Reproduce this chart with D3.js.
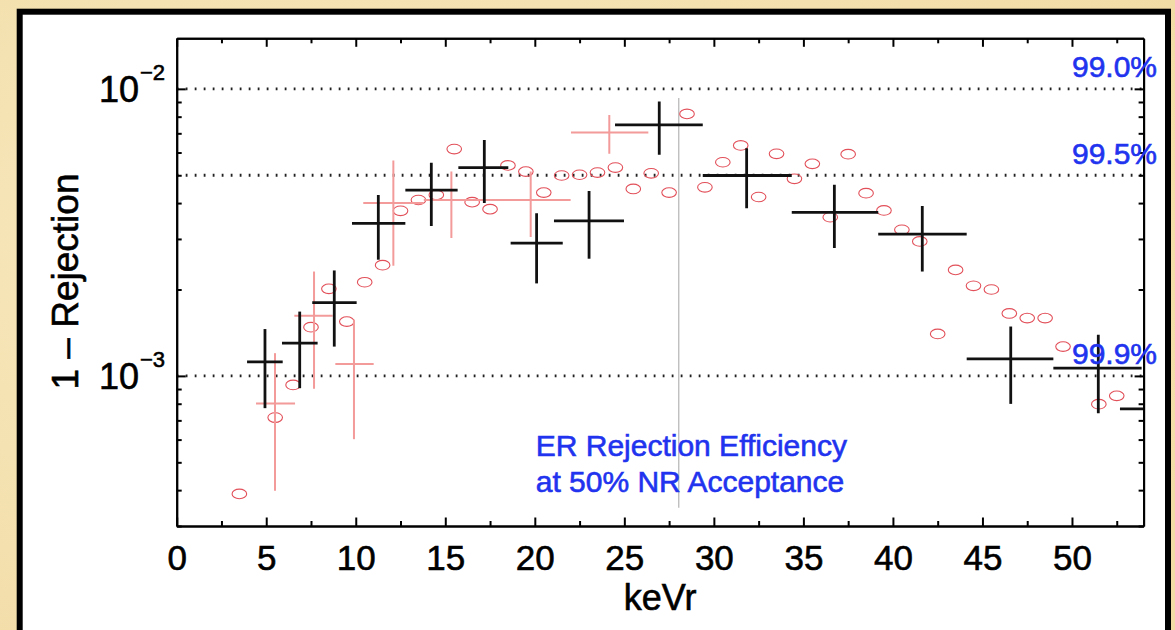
<!DOCTYPE html>
<html>
<head>
<meta charset="utf-8">
<script src="https://cdn.jsdelivr.net/npm/d3@7"></script>
<style>
  html, body { margin: 0; padding: 0; background: #f4e4b8; }
  svg { display: block; }
  text { font-family: "Liberation Sans", Arial, Helvetica, sans-serif; }
</style>
</head>
<body>
<svg id="chart" width="1175" height="630"></svg>
<script>
// ---------- data ----------
// black crosses (bin centre, bin edges, value, error bounds)
const blackX    = [4.93, 6.87, 8.80, 11.26, 14.22, 17.18, 20.10, 23.03, 26.95, 31.83, 36.73, 41.64, 46.58, 51.47, 55.10];
const blackXLo  = [3.93, 5.88, 7.57, 9.79, 12.77, 15.73, 18.65, 21.07, 24.48, 29.38, 34.35, 39.18, 44.12, 48.96, 52.68];
const blackXHi  = [5.92, 7.87, 10.05, 12.77, 15.69, 18.52, 21.56, 24.98, 29.38, 34.35, 39.18, 44.12, 48.96, 53.89, 57.50];
const blackY    = [1.12e-3, 1.30e-3, 1.80e-3, 3.40e-3, 4.44e-3, 5.32e-3, 2.90e-3, 3.47e-3, 7.49e-3, 4.99e-3, 3.71e-3, 3.12e-3, 1.146e-3, 1.064e-3, 7.67e-4];
const blackYLo  = [7.72e-4, 9.06e-4, 1.265e-3, 2.54e-3, 3.33e-3, 4.00e-3, 2.10e-3, 2.56e-3, 5.89e-3, 3.84e-3, 2.79e-3, 2.31e-3, 7.99e-4, 7.41e-4, 5.5e-4];
const blackYHi  = [1.456e-3, 1.675e-3, 2.33e-3, 4.27e-3, 5.53e-3, 6.64e-3, 3.69e-3, 4.41e-3, 9.03e-3, 6.21e-3, 4.63e-3, 3.91e-3, 1.486e-3, 1.39e-3, 1.05e-3];

// pink crosses
const pinkX   = [5.49, 7.67, 9.90, 12.10, 15.34, 19.77, 24.16];
const pinkXLo = [4.43, 6.57, 8.86, 10.42, 13.80, 17.50, 22.02];
const pinkXHi = [6.61, 8.71, 11.00, 13.80, 17.50, 22.00, 26.34];
const pinkY   = [8.01e-4, 1.62e-3, 1.10e-3, 4.00e-3, 4.10e-3, 4.10e-3, 7.05e-3];
const pinkYLo = [3.98e-4, 9.02e-4, 6.02e-4, 2.42e-3, 3.02e-3, 3.05e-3, 5.94e-3];
const pinkYHi = [1.20e-3, 2.31e-3, 1.57e-3, 5.63e-3, 5.15e-3, 5.15e-3, 8.11e-3];

// red open circles
const circX = [3.5, 5.5, 6.5, 7.5, 8.5, 9.5, 10.5, 11.5, 12.5, 13.5, 14.5, 15.5, 16.5, 17.5, 18.5, 19.5,
               20.5, 21.5, 22.5, 23.5, 24.5, 25.5, 26.5, 27.5, 28.5, 29.5, 30.5, 31.5, 32.5, 33.5, 34.5,
               35.5, 36.5, 37.5, 38.5, 39.5, 40.5, 41.5, 42.5, 43.5, 44.5, 45.5, 46.5, 47.5, 48.5, 49.5, 51.5, 52.5];
const circY = [3.88e-4, 7.16e-4, 9.30e-4, 1.478e-3, 2.01e-3, 1.546e-3, 2.12e-3, 2.43e-3, 3.76e-3, 4.10e-3, 4.27e-3, 6.17e-3,
               4.03e-3, 3.81e-3, 5.41e-3, 5.15e-3, 4.35e-3, 4.99e-3, 5.02e-3, 5.11e-3, 5.32e-3, 4.48e-3, 5.08e-3, 4.35e-3,
               8.18e-3, 4.54e-3, 5.55e-3, 6.35e-3, 4.20e-3, 5.94e-3, 4.86e-3, 5.48e-3, 3.57e-3, 5.92e-3, 4.33e-3, 3.77e-3,
               3.23e-3, 2.94e-3, 1.40e-3, 2.34e-3, 2.06e-3, 2.00e-3, 1.65e-3, 1.59e-3, 1.59e-3, 1.265e-3, 7.97e-4, 8.52e-4];

// reference lines and labels
const refLevels = [1e-2, 5e-3, 1e-3];
const refLabels = ["99.0%", "99.5%", "99.9%"];
const cutX = 28.04;
const cutRange = [9.3e-3, 3.47e-4];

// axes
const xDomain = [0, 54];
const yDomain = [3e-4, 1.5e-2];
const xMajorTicks = [0, 5, 10, 15, 20, 25, 30, 35, 40, 45, 50];
const xMinorTicks = [2.5, 7.5, 12.5, 17.5, 22.5, 27.5, 32.5, 37.5, 42.5, 47.5, 52.5];
const yMajorTicks = [1e-2, 1e-3];
const yMajorExp = ["−2", "−3"];
const yMinorTicks = [3e-4, 4e-4, 5e-4, 6e-4, 7e-4, 8e-4, 9e-4, 2e-3, 3e-3, 4e-3, 5e-3, 6e-3, 7e-3, 8e-3, 9e-3];
const xTitle = "keVr";
const yTitle = "1 – Rejection";
const noteLines = ["ER Rejection Efficiency", "at 50% NR Acceptance"];

// ---------- drawing ----------
const svg = d3.select("#chart");
const W = 1175, H = 630;
const L = 176.7, R = 1143.6, T = 38.3, B = 526;

const defs = svg.append("defs");
const rg = defs.append("radialGradient").attr("id", "parch").attr("cx", "30%").attr("cy", "40%").attr("r", "80%");
rg.append("stop").attr("offset", "0%").attr("stop-color", "#f8e9c0");
rg.append("stop").attr("offset", "100%").attr("stop-color", "#f2dca6");
defs.append("clipPath").attr("id", "plotclip")
  .append("rect").attr("x", L).attr("y", T).attr("width", R - L).attr("height", B - T);

svg.append("rect").attr("width", W).attr("height", H).attr("fill", "url(#parch)");
// white panel with thick black frame
svg.append("rect").attr("x", 19.7).attr("y", 11.7).attr("width", 1148.3).attr("height", 700)
  .attr("fill", "#fff").attr("stroke", "#000").attr("stroke-width", 6);

const x = d3.scaleLinear().domain(xDomain).range([L, R]);
const y = d3.scaleLog().domain(yDomain).range([B, T]);

const plot = svg.append("g").attr("clip-path", "url(#plotclip)");

// dotted reference lines
plot.selectAll("line.ref").data(refLevels).join("line")
  .attr("x1", L).attr("x2", R)
  .attr("y1", d => y(d)).attr("y2", d => y(d))
  .attr("stroke", "#222").attr("stroke-width", 2.8)
  .attr("stroke-dasharray", "1.8 7.2");

// vertical cut line
plot.append("line")
  .attr("x1", x(cutX)).attr("x2", x(cutX))
  .attr("y1", y(cutRange[0])).attr("y2", y(cutRange[1]))
  .attr("stroke", "#b4b4b4").attr("stroke-width", 1.2);

// red open circles
plot.selectAll("ellipse.c").data(circX).join("ellipse")
  .attr("cx", (d, i) => x(d)).attr("cy", (d, i) => y(circY[i]))
  .attr("rx", 7.3).attr("ry", 4.8)
  .attr("fill", "none").attr("stroke", "#e2505a").attr("stroke-width", 1.1);

// pink crosses
const pg = plot.append("g").attr("stroke", "#f39a9a").attr("stroke-width", 2);
pinkX.forEach((d, i) => {
  pg.append("line").attr("x1", x(pinkXLo[i])).attr("x2", x(pinkXHi[i]))
    .attr("y1", y(pinkY[i])).attr("y2", y(pinkY[i]));
  pg.append("line").attr("x1", x(d)).attr("x2", x(d))
    .attr("y1", y(pinkYLo[i])).attr("y2", y(pinkYHi[i]));
});

// black crosses
const bg = plot.append("g").attr("stroke", "#111").attr("stroke-width", 2.8);
blackX.forEach((d, i) => {
  bg.append("line").attr("x1", x(blackXLo[i])).attr("x2", x(blackXHi[i]))
    .attr("y1", y(blackY[i])).attr("y2", y(blackY[i]));
  bg.append("line").attr("x1", x(d)).attr("x2", x(d))
    .attr("y1", y(blackYLo[i])).attr("y2", y(blackYHi[i]));
});

// ---------- axes ----------
function styleAxis(g) {
  g.selectAll("path.domain").attr("stroke", "#000").attr("stroke-width", 2);
  g.selectAll(".tick line").attr("stroke", "#000").attr("stroke-width", 2);
}
const none = () => "";
const heavy = sel => sel.attr("stroke", "currentColor").attr("stroke-width", 0.6);

const xb = svg.append("g").attr("transform", `translate(0,${B})`)
  .call(d3.axisBottom(x).tickValues(xMajorTicks).tickSize(-8.5).tickSizeOuter(0).tickPadding(19)
        .tickFormat(d3.format("d")));
xb.selectAll("text").attr("font-size", 35).attr("fill", "#000").attr("color", "#000").call(heavy);
styleAxis(xb);
svg.append("g").attr("transform", `translate(0,${B})`)
  .call(d3.axisBottom(x).tickValues(xMinorTicks).tickSize(-5).tickSizeOuter(0).tickFormat(none))
  .call(styleAxis);

svg.append("g").attr("transform", `translate(0,${T})`)
  .call(d3.axisTop(x).tickValues(xMajorTicks).tickSize(-8.5).tickSizeOuter(0).tickFormat(none))
  .call(styleAxis);
svg.append("g").attr("transform", `translate(0,${T})`)
  .call(d3.axisTop(x).tickValues(xMinorTicks).tickSize(-5).tickSizeOuter(0).tickFormat(none))
  .call(styleAxis);

svg.append("g").attr("transform", `translate(${L},0)`)
  .call(d3.axisLeft(y).tickValues(yMajorTicks).tickSize(-9).tickSizeOuter(0).tickFormat(none))
  .call(styleAxis);
svg.append("g").attr("transform", `translate(${L},0)`)
  .call(d3.axisLeft(y).tickValues(yMinorTicks).tickSize(-5).tickSizeOuter(0).tickFormat(none))
  .call(styleAxis);
svg.append("g").attr("transform", `translate(${R},0)`)
  .call(d3.axisRight(y).tickValues(yMajorTicks).tickSize(-9).tickSizeOuter(0).tickFormat(none))
  .call(styleAxis);
svg.append("g").attr("transform", `translate(${R},0)`)
  .call(d3.axisRight(y).tickValues(yMinorTicks).tickSize(-5).tickSizeOuter(0).tickFormat(none))
  .call(styleAxis);

// y tick labels 10^-n
yMajorTicks.forEach((v, i) => {
  svg.append("text").attr("x", 139).attr("y", y(v) + 13.5)
    .attr("text-anchor", "end").attr("font-size", 36).attr("fill", "#000").attr("color", "#000")
    .text("10").call(heavy);
  svg.append("text").attr("x", 140).attr("y", y(v) - 9)
    .attr("text-anchor", "start").attr("font-size", 22).attr("fill", "#000").attr("color", "#000")
    .text(yMajorExp[i]).call(heavy);
});

// axis titles
svg.append("text").attr("x", (L + R) / 2).attr("y", 610)
  .attr("text-anchor", "middle").attr("font-size", 36).attr("fill", "#000").attr("color", "#000")
  .text(xTitle).call(heavy);
svg.append("text").attr("transform", `translate(78,${281.5}) rotate(-90)`)
  .attr("text-anchor", "middle").attr("font-size", 37).attr("fill", "#000").attr("color", "#000")
  .text(yTitle).call(heavy);

// blue annotations
const blue = "#2133ee";
refLevels.forEach((v, i) => {
  svg.append("text").attr("x", x(50)).attr("y", y(v) - 11.5)
    .attr("font-size", 30).attr("fill", blue).attr("color", blue).text(refLabels[i]).call(heavy);
});
noteLines.forEach((t, i) => {
  svg.append("text").attr("x", x(20.05)).attr("y", 456 + i * 36)
    .attr("font-size", 30).attr("fill", blue).attr("color", blue).text(t).call(heavy);
});
</script>
</body>
</html>
